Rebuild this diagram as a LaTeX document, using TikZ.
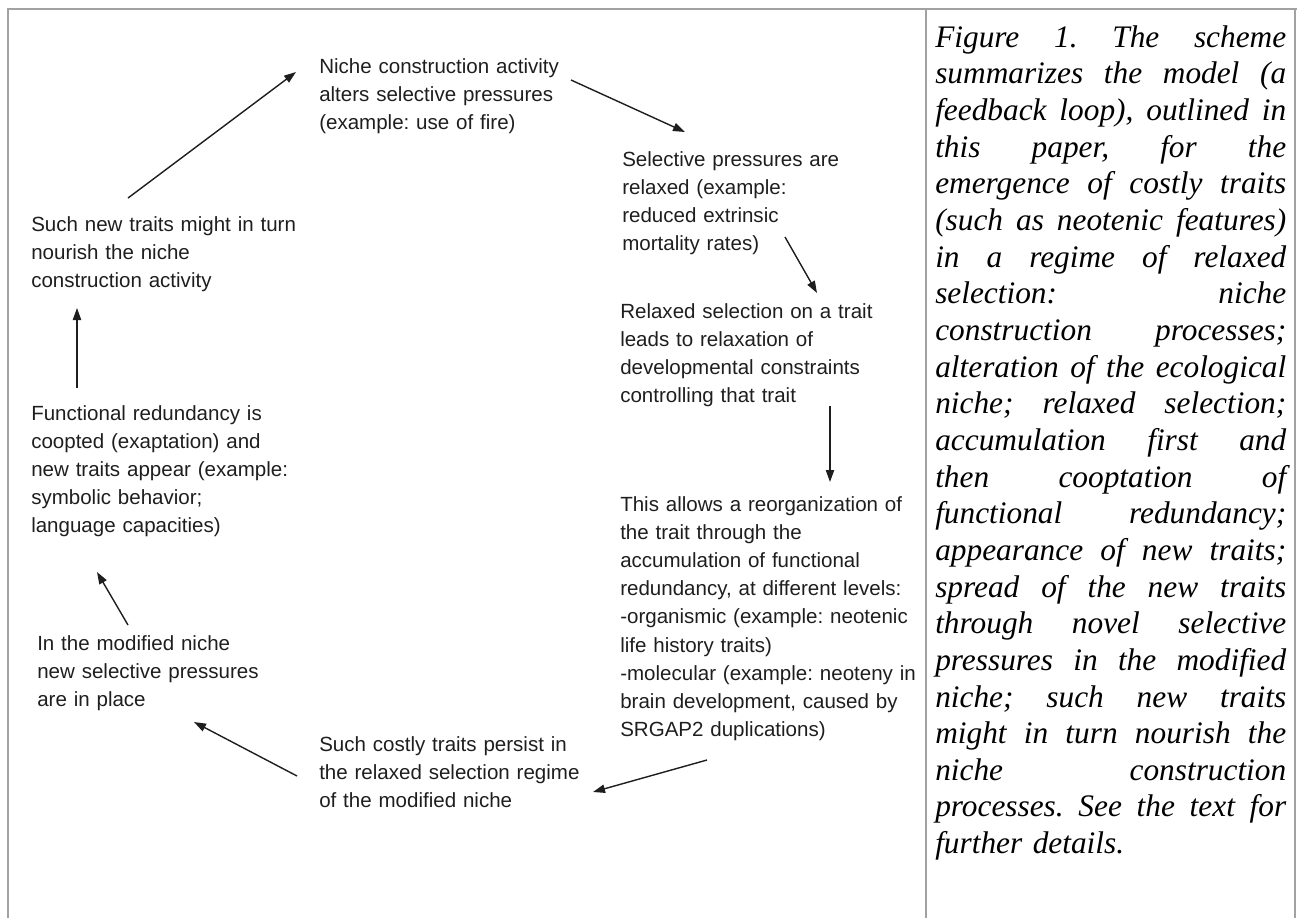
\documentclass[tikz,border=0pt]{standalone}
\usepackage{fontspec}
\setmainfont{Liberation Sans}
\newfontfamily\capfont{Liberation Serif}
\usetikzlibrary{arrows.meta}
\definecolor{framegray}{HTML}{A2A2A2}
\definecolor{inkgray}{HTML}{1E1E1E}
\frenchspacing
% width of the caption column
\newlength\capw
\setlength\capw{263.25pt}
% one justified line of the caption, its word spaces stretched to the full column width
\newcommand\capline[1]{\hbox to \capw{\spaceskip=\fontdimen2\font plus 1fil\relax #1}}
\begin{document}
\begin{tikzpicture}[x=0.75pt,y=-0.75pt,
  frame/.style={draw=framegray, line width=1.1pt},
  stage/.style={anchor=base west, inner sep=0pt, text width=240pt, align=left,
    text=inkgray, font=\fontsize{15.4pt}{21.15pt}\selectfont},
  flow/.style={draw=inkgray, line width=1.05pt, -{Triangle[length=9pt,width=6.2pt]}},
  caption/.style={anchor=base west, inner sep=0pt, text width=\capw,
    font=\capfont\itshape\fontsize{23.5pt}{27.5pt}\selectfont}]
\useasboundingbox (0,0) rectangle (1297,918);

% table frame: left rule, top rule, column divider, right rule
\draw[frame] (8,918) -- (8,9) -- (1297,9);
\draw[frame] (926,9) -- (926,918);
\draw[frame] (1295,9) -- (1295,918);

% stages of the feedback loop
\node[stage] (nca) at (319,73) {Niche construction activity\\alters selective pressures\\(example: use of fire)};
\node[stage] (sel) at (622,166) {Selective pressures are\\relaxed (example:\\reduced extrinsic\\mortality rates)};
\node[stage] (rel) at (620,318) {Relaxed selection on a trait\\leads to relaxation of\\developmental constraints\\controlling that trait};
\node[stage] (reo) at (620,511) {This allows a reorganization of\\the trait through the\\accumulation of functional\\redundancy, at different levels:\\-organismic (example: neotenic\\life history traits)\\-molecular (example: neoteny in\\brain development, caused by\\SRGAP2 duplications)};
\node[stage] (cost) at (319,751) {Such costly traits persist in\\the relaxed selection regime\\of the modified niche};
\node[stage] (mod) at (37,650) {In the modified niche\\new selective pressures\\are in place};
\node[stage] (fun) at (31,420) {Functional redundancy is\\coopted (exaptation) and\\new traits appear (example:\\symbolic behavior;\\language capacities)};
\node[stage] (snt) at (31,231) {Such new traits might in turn\\nourish the niche\\construction activity};

% arrow ends
\coordinate (snt-out) at (128,198);
\coordinate (nca-in)  at (296,72);
\coordinate (nca-out) at (571,80);
\coordinate (sel-in)  at (685,132);
\coordinate (sel-out) at (785,237);
\coordinate (rel-in)  at (817,293);
\coordinate (rel-out) at (830,406);
\coordinate (reo-in)  at (830,482);
\coordinate (reo-out) at (707,760);
\coordinate (cost-in) at (593,792);
\coordinate (cost-out) at (297,776);
\coordinate (mod-in)  at (194,722);
\coordinate (mod-out) at (128,625);
\coordinate (fun-in)  at (97,572);
\coordinate (fun-out) at (77,388);
\coordinate (snt-in)  at (77,308);

\draw[flow] (snt-out) -- (nca-in);
\draw[flow] (nca-out) -- (sel-in);
\draw[flow] (sel-out) -- (rel-in);
\draw[flow] (rel-out) -- (reo-in);
\draw[flow] (reo-out) -- (cost-in);
\draw[flow] (cost-out) -- (mod-in);
\draw[flow] (mod-out) -- (fun-in);
\draw[flow] (fun-out) -- (snt-in);

% figure caption in the right column
\node[caption] (cap) at (935,47) {%
\capline{Figure 1. The scheme}
\capline{summarizes the model (a}
\capline{feedback loop), outlined in}
\capline{this paper, for the}
\capline{emergence of costly traits}
\capline{(such as neotenic features)}
\capline{in a regime of relaxed}
\capline{selection: niche}
\capline{construction processes;}
\capline{alteration of the ecological}
\capline{niche; relaxed selection;}
\capline{accumulation first and}
\capline{then cooptation of}
\capline{functional redundancy;}
\capline{appearance of new traits;}
\capline{spread of the new traits}
\capline{through novel selective}
\capline{pressures in the modified}
\capline{niche; such new traits}
\capline{might in turn nourish the}
\capline{niche construction}
\capline{processes. See the text for}
\hbox{further details.}};
\end{tikzpicture}
\end{document}
